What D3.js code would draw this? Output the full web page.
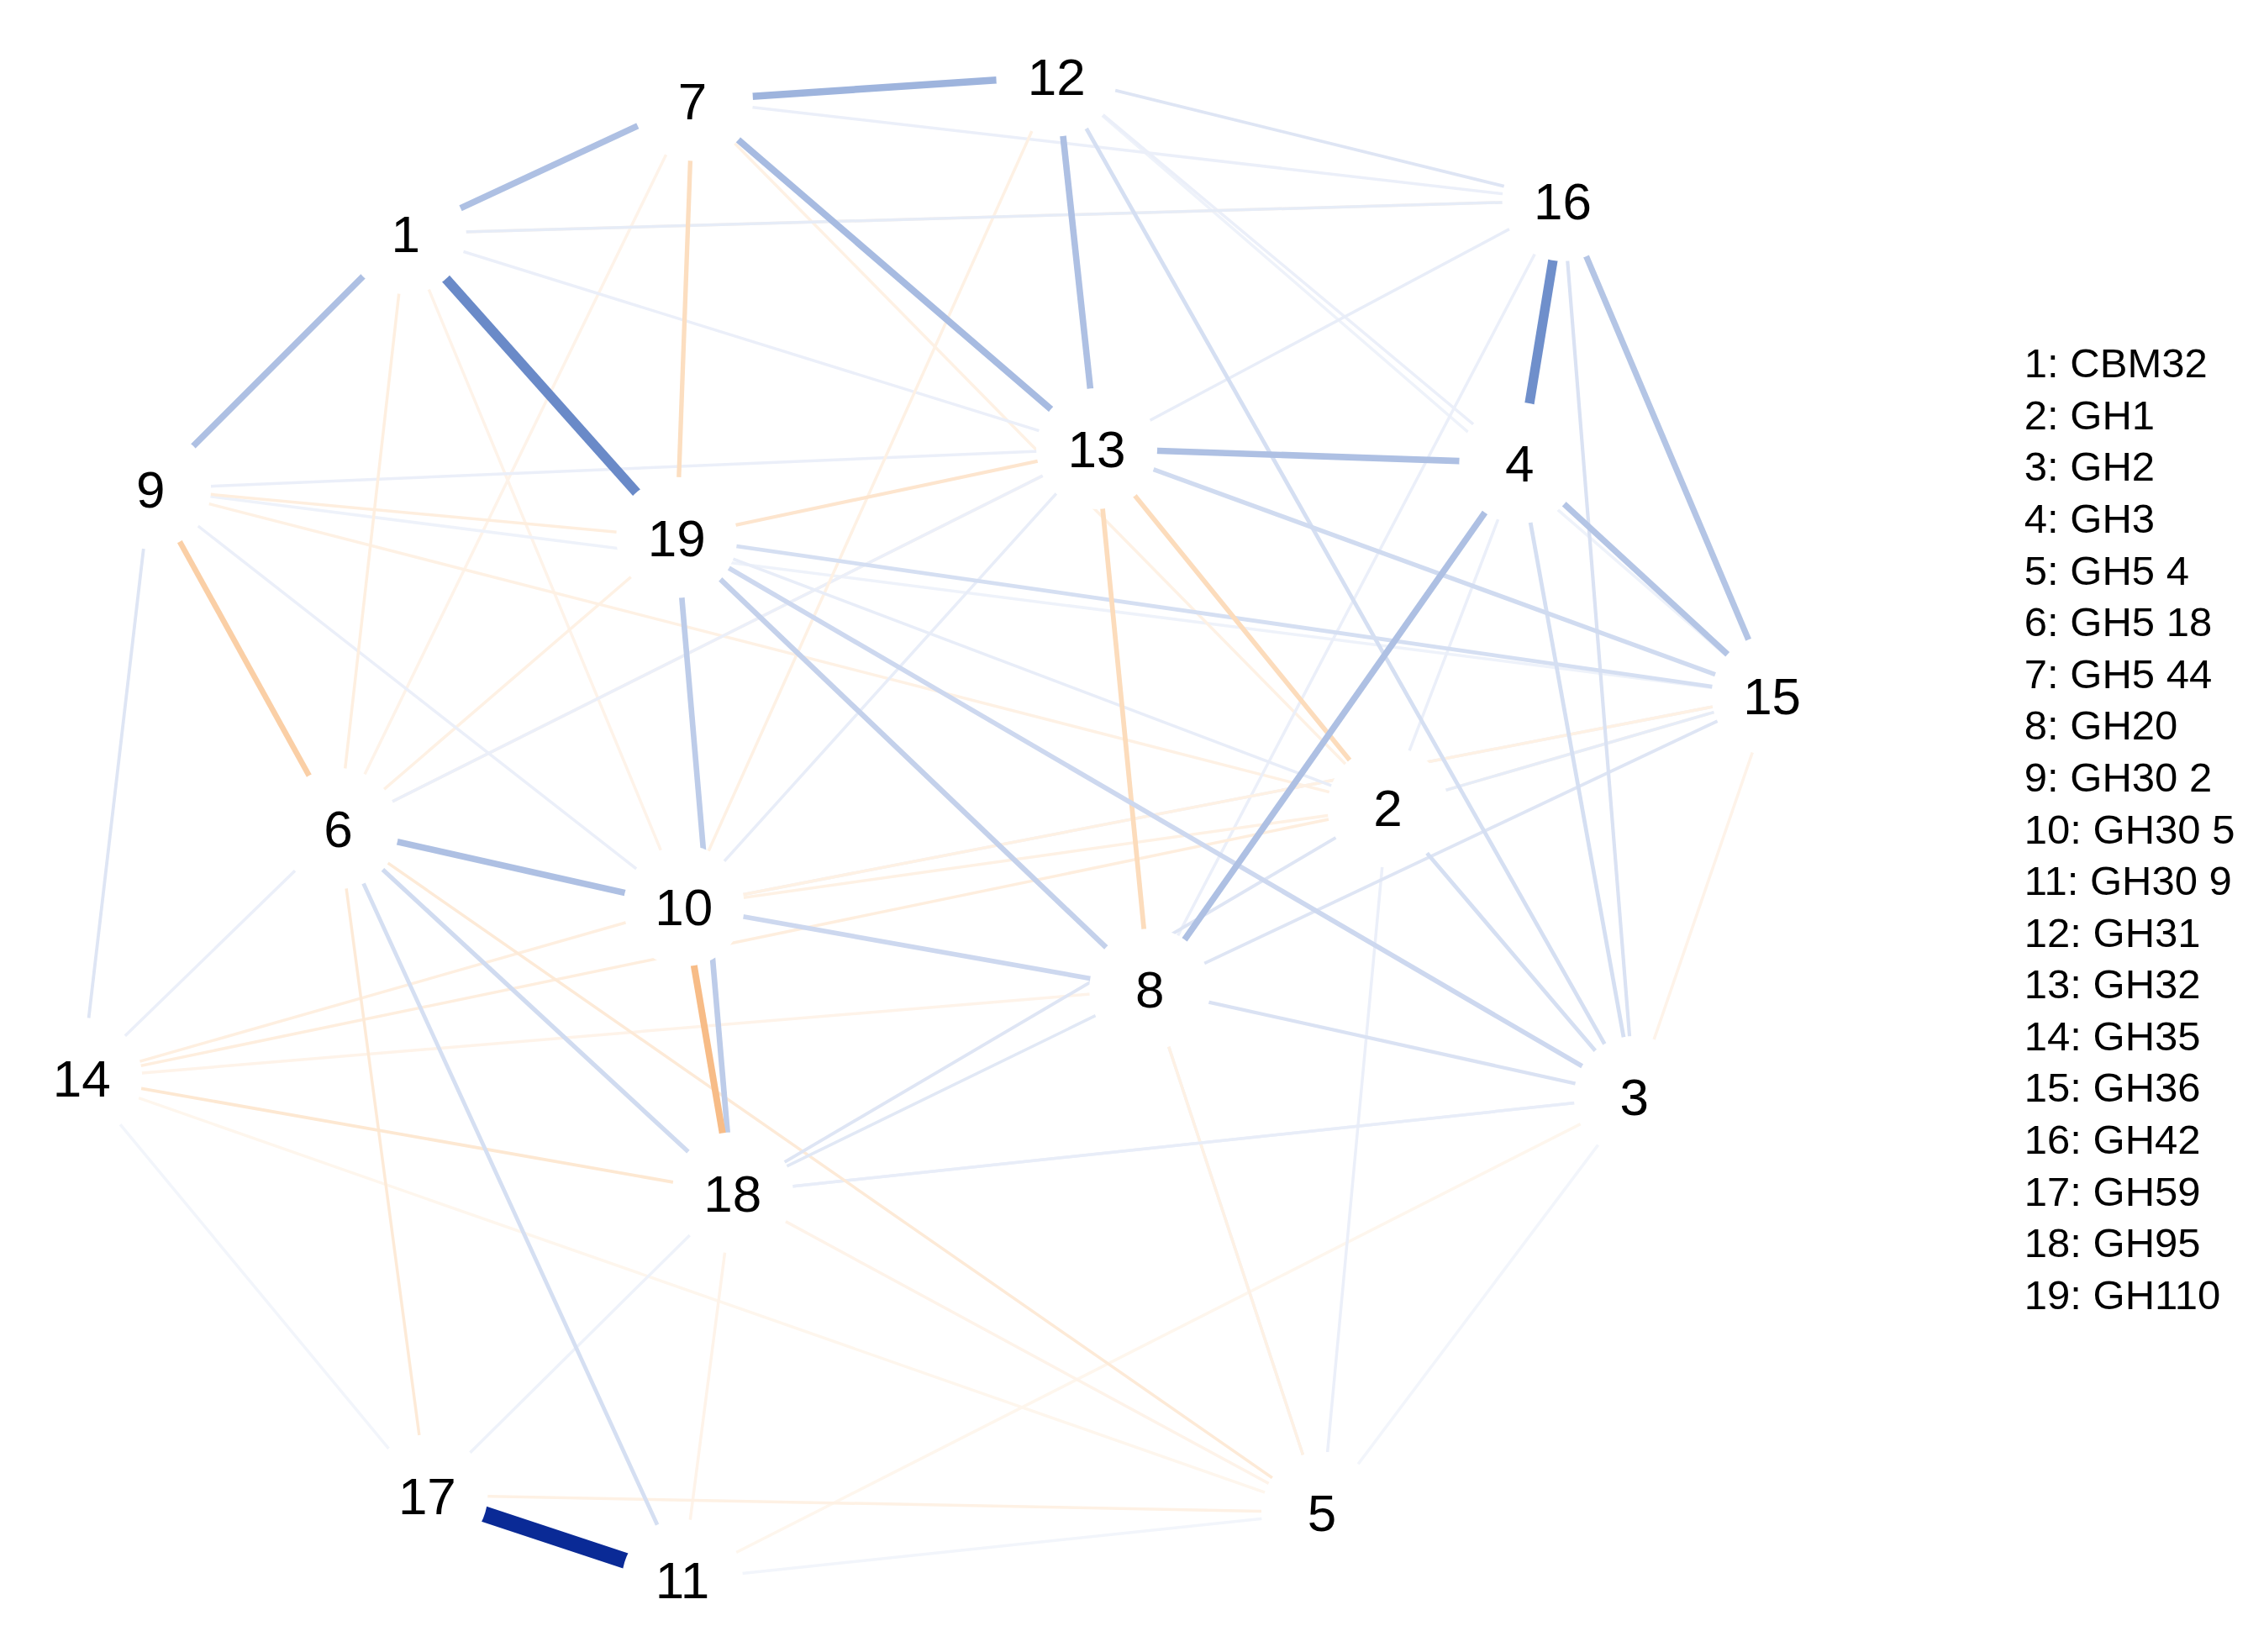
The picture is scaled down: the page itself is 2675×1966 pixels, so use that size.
<!DOCTYPE html>
<html><head><meta charset="utf-8">
<script src="https://cdn.jsdelivr.net/npm/d3@7"></script>
<style>body{margin:0;background:#fff}</style>
</head><body>
<script>
// nodes (positions, in reference pixel units)
var nodeIds = [1,2,3,4,5,6,7,8,9,10,11,12,13,14,15,16,17,18,19];
var nodeX = [283,968,1140,1060,922,236,483,802,105,477,476,737,765,57,1236,1090,298,511,472];
var nodeY = [163,563,765,323,1055,578,70,690,341,632,1102,53,313,752,485,140,1043,832,375];
var legendLabels = ["1: CBM32","2: GH1","3: GH2","4: GH3","5: GH5 4","6: GH5 18","7: GH5 44","8: GH20",
  "9: GH30 2","10: GH30 5","11: GH30 9","12: GH31","13: GH32","14: GH35","15: GH36","16: GH42",
  "17: GH59","18: GH95","19: GH110"];

// edges: source, target, weight (+ blue, - orange)
var edgeSrc = [17,1,16,7,1,7,7,12,13,16,4,4,6,10,19,9,13,13,7,10,19,19,6,6,12,13,19,12,16,4,2,8,19,9,14,14,6,6,1,18,8,18,2,
  12,12,7,7,1,1,9,9,9,14,14,14,17,17,11,11,5,5,5,3,3,15,15,16,16,13,13,10,10,18,19,19,6,8,2,12,7,1,9,14,17,11,4,15,16];
var edgeTgt = [11,19,4,12,9,1,13,13,4,15,15,8,10,18,18,6,2,8,19,8,8,3,18,11,3,15,15,16,3,3,3,3,13,14,18,2,17,5,6,2,15,8,15,
  4,15,16,2,16,13,19,13,2,6,10,8,18,5,18,5,18,8,3,15,18,2,10,13,8,10,6,2,15,3,6,2,13,5,5,10,6,10,10,5,14,3,2,9,1];
var edgeW = [1.0,0.62,0.6,0.45,0.4,0.4,0.42,0.4,0.4,0.38,0.38,0.4,0.4,-0.42,0.35,-0.35,-0.3,-0.3,-0.28,0.3,0.33,0.3,0.28,0.25,0.25,0.28,0.25,0.2,0.22,0.25,0.25,0.22,-0.22,0.2,-0.2,-0.15,-0.18,-0.18,-0.14,0.2,0.2,0.18,0.15,
  0.12,0.1,0.12,-0.12,0.15,0.12,-0.15,0.12,-0.12,0.12,-0.14,-0.1,0.1,-0.12,-0.1,0.08,-0.1,0.12,0.08,-0.1,0.14,-0.12,0.12,0.14,0.12,0.14,-0.12,-0.12,-0.12,0.12,-0.12,0.14,0.12,-0.12,0.12,-0.12,-0.1,-0.1,0.12,-0.08,0.08,-0.08,0.12,0.1,-0.12];

var W = 2675, H = 1966, k = 2675/1568;
var x = d3.scaleLinear().domain([0,1568]).range([0,1568*k]);
var y = d3.scaleLinear().domain([0,1152]).range([0,1152*k]);
var wScale = d3.scaleLinear().domain([0,1]).range([0,19]);
var posCol = d3.scaleLinear().domain([0,0.3,0.6,1]).range(["#ffffff","#cdd8ef","#6f8fcb","#0a2a96"]);
var negCol = d3.scaleLinear().domain([0,0.3,0.45]).range(["#ffffff","#fcdcbc","#f6b47a"]).clamp(true);

var svg = d3.select("body").append("svg").attr("width", W).attr("height", H);

var edges = edgeSrc.map(function(s,i){ return {s:s-1, t:edgeTgt[i]-1, w:edgeW[i]}; });
edges.sort(function(a,b){ return Math.abs(a.w)-Math.abs(b.w); });

svg.selectAll("line.edge").data(edges).enter().append("line")
  .attr("class","edge")
  .attr("x1", d => x(nodeX[d.s])).attr("y1", d => y(nodeY[d.s]))
  .attr("x2", d => x(nodeX[d.t])).attr("y2", d => y(nodeY[d.t]))
  .attr("stroke", d => d.w > 0 ? posCol(d.w) : negCol(-d.w))
  .attr("stroke-width", d => Math.max(3.5, wScale(Math.abs(d.w))));

// white node discs hide edge ends
svg.selectAll("circle").data(nodeIds).enter().append("circle")
  .attr("cx", (d,i) => x(nodeX[i])).attr("cy", (d,i) => y(nodeY[i]))
  .attr("r", 72).attr("fill", "#fff");

svg.selectAll("text.node").data(nodeIds).enter().append("text")
  .attr("class","node")
  .attr("x", (d,i) => x(nodeX[i])).attr("y", (d,i) => y(nodeY[i]))
  .attr("text-anchor","middle").attr("dy","0.36em")
  .attr("font-family","Liberation Sans, Arial").attr("font-size", 62)
  .text(d => d);

svg.selectAll("text.leg").data(legendLabels).enter().append("text")
  .attr("class","leg")
  .attr("x", x(1412)).attr("y", (d,i) => y(253 + i*36.1))
  .attr("dy","0.36em")
  .attr("font-family","Liberation Sans, Arial").attr("font-size", 49)
  .text(d => d);
</script>
</body></html>
